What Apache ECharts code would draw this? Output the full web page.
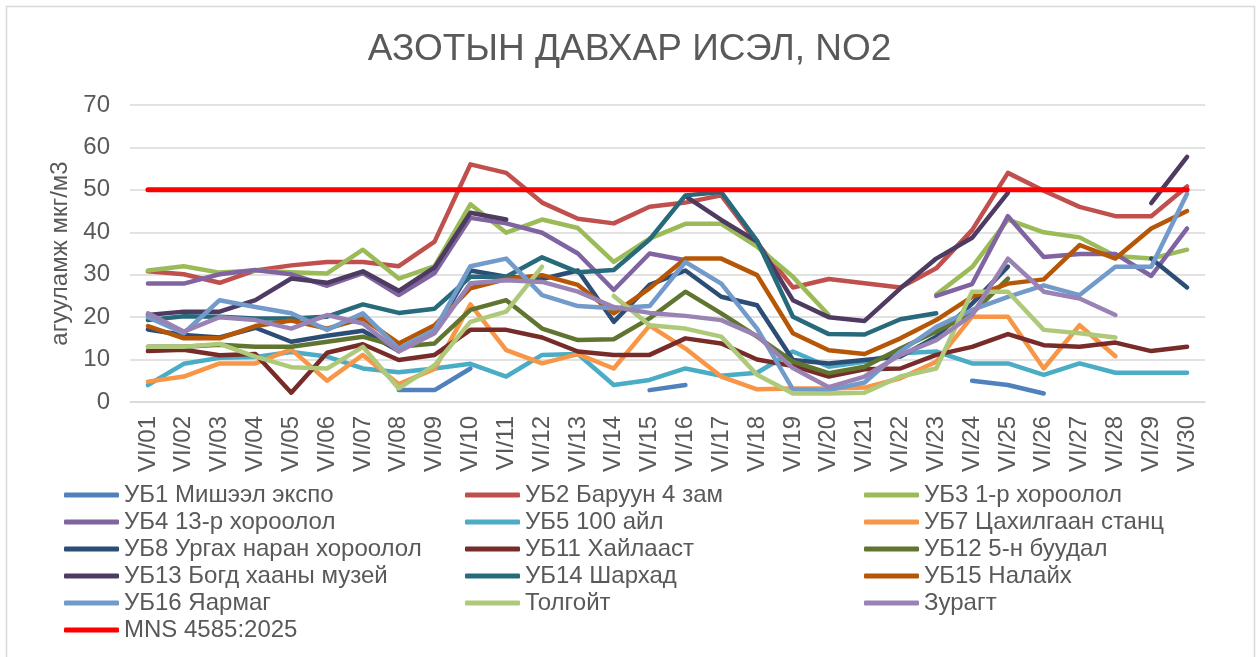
<!DOCTYPE html>
<html>
<head>
<meta charset="utf-8">
<script src="https://cdn.jsdelivr.net/npm/echarts@6/dist/echarts.min.js"></script>
<style>
html,body{margin:0;padding:0;background:#fff;}
#chart{width:1259px;height:657px;}
</style>
</head>
<body>
<div id="chart"></div>
<script>
var categories = ['VI/01','VI/02','VI/03','VI/04','VI/05','VI/06','VI/07','VI/08','VI/09','VI/10','VI/11','VI/12','VI/13','VI/14','VI/15','VI/16','VI/17','VI/18','VI/19','VI/20','VI/21','VI/22','VI/23','VI/24','VI/25','VI/26','VI/27','VI/28','VI/29','VI/30'];
var yTicks = [0,10,20,30,40,50,60,70];

var ub1 = [null,null,null,null,null,null,null,2.8,2.8,7.9,null,null,null,null,2.8,4,null,null,null,null,null,null,null,5,4,2,null,null,null,null];
var ub2 = [30.8,30.1,28.1,31,32.2,33,33,32,37.8,56,54,47,43.2,42.1,46,47,48.7,37.5,27,29,28,27,31.5,40.5,54,49.8,46,43.8,43.8,50.8];
var ub3 = [31,32,30.5,31,30.6,30.3,35.9,29.1,32,46.6,39.9,43,41,33,38.5,42,42,36.6,29.5,20.5,null,null,25.3,31.8,43,40,38.8,34.4,33.8,35.9];
var ub4 = [27.9,27.9,30.1,31.1,30.1,27.4,30.4,25.2,30.4,43.4,42.1,39.9,35,26.4,35,33.4,null,null,null,null,null,null,25,27.8,43.8,34.2,34.9,34.9,29.7,40.9];
var ub5 = [4,9,10.4,10.6,11.8,10.7,7.9,7,7.9,9,6,11.1,11.3,4,5.2,7.9,6.2,6.9,11.9,8.3,9.5,11.5,11.9,9.1,9.1,6.4,9.1,6.9,6.9,6.9];
var ub7 = [4.8,6,9.1,9.1,12.4,5,11.1,4.2,7.8,23,12.2,9.1,11.3,7.9,18,12.6,6,3,3.2,3.2,3.4,5.6,9.5,20.1,20.1,7.9,18.1,10.8,null,null];
var ub8 = [17.1,15.8,15.2,17.5,14.2,15.6,16.8,12,16.8,31,29.5,29,31,18.9,27.6,31,24.8,22.8,9.9,9.1,9.9,10.7,15.4,23.2,31.9,null,null,null,33.8,27];
var ub11 = [12,12.3,11,11.3,2.2,11.6,13.6,9.9,11.1,17,17,15.2,11.9,11.1,11.1,15,13.8,10,8.5,6,7.7,7.9,11.1,13,16,13.4,13,14,12,13];
var ub12 = [13,13,13.5,13,13,14.2,15.4,13,13.8,21.7,24,17.3,14.6,14.8,19.7,26,20.9,15.4,9.5,6.8,8.3,12.6,16.6,20.9,29.1,null,null,null,null,null];
var ub13 = [20.5,21.3,21.3,24,29.1,28.1,30.8,26.2,31.7,44.6,43,null,null,null,null,48.5,42.9,37.8,24,20,19.1,26.8,33.8,38.7,49.3,null,null,null,46.9,57.8];
var ub14 = [19.3,20.2,20.1,19.7,19.7,20.1,23,21,22,29.5,29.5,34.1,30.6,31.1,38.3,48.7,49.5,38,20.1,16,15.9,19.5,20.9,null,null,null,null,null,null,null];
var ub15 = [17.9,15,15,17.9,19.2,17.3,19.7,13.8,18.1,26.8,29,29.9,27.6,20.9,26.8,33.8,33.8,29.9,16.2,12.2,11.3,15,19.3,24.8,27.9,28.9,37,33.8,40.9,45];
var ub16 = [20,16.2,24,22.4,20.9,17,20.9,12.6,17,32,33.8,25.2,22.6,22.1,22.6,33,27.9,17.3,3,2.8,4.6,11.9,17.7,21.7,24.8,27.5,25.2,31.9,31.9,49.1];
var tolgoit = [13,13,13.7,10.7,8.2,7.9,13,3.2,8.7,18.9,21.3,31.9,null,25,18.1,17.3,15.4,6.4,2,2,2.2,6,7.9,26,26,17,16.2,15.2,null,null];
var zuragt = [20.9,16.6,20,19.3,17.3,20.5,18.5,11.9,16.2,28,28.7,28.3,26,22.4,21,20.3,19.3,15.6,8,3.5,6,11.1,14.6,20.5,33.8,26,24.4,20.5,null,null];
var mns = [50,50,50,50,50,50,50,50,50,50,50,50,50,50,50,50,50,50,50,50,50,50,50,50,50,50,50,50,50,50];

var seriesNames = ['УБ1 Мишээл экспо','УБ2 Баруун 4 зам','УБ3 1-р хороолол','УБ4 13-р хороолол','УБ5 100 айл','УБ7 Цахилгаан станц','УБ8 Ургах наран хороолол','УБ11 Хайлааст','УБ12 5-н буудал','УБ13 Богд хааны музей','УБ14 Шархад','УБ15 Налайх','УБ16 Яармаг','Толгойт','Зурагт','MNS 4585:2025'];
var seriesData = [ub1,ub2,ub3,ub4,ub5,ub7,ub8,ub11,ub12,ub13,ub14,ub15,ub16,tolgoit,zuragt,mns];
var seriesColors = ['#4F81BD','#C0504D','#9BBB59','#8064A2','#4BACC6','#F79646','#2C4D75','#772C2A','#5F7530','#4D3B62','#276A7C','#B65708','#729ACA','#AFC97A','#9983B5','#FF0000'];

var FONT = '"Liberation Sans", Arial, sans-serif';
var TXT = '#595959';

var series = seriesNames.map(function(n,i){
  return {
    name:n, type:'line', data:seriesData[i], color:seriesColors[i],
    showSymbol:false, symbol:'none', connectNulls:false, silent:true,
    lineStyle:{width: i===15 ? 5 : 4.5, color:seriesColors[i], cap:'round', join:'round'},
    z: i===15 ? 5 : 2
  };
});

function legendCol(left, names){
  return {
    orient:'vertical', left:left, top:483, height:180, padding:0, data:names,
    icon:'roundRect', itemWidth:55, itemHeight:5, itemGap:3, selectedMode:false,
    textStyle:{fontSize:24, color:TXT, fontFamily:FONT}
  };
}

var chart = echarts.init(document.getElementById('chart'), null, {renderer:'canvas'});
chart.setOption({
  animation:false,
  backgroundColor:'#fff',
  title:{text:'АЗОТЫН ДАВХАР ИСЭЛ, NO2', left:'center', top:26,
    textStyle:{fontSize:37, fontWeight:'normal', color:TXT, fontFamily:FONT}},
  graphic:[{type:'rect', shape:{x:6.5,y:6.5,width:1248,height:660}, style:{fill:null, stroke:'#D9D9D9', lineWidth:1.5}, silent:true}],
  legend:[
    legendCol(64, [seriesNames[0],seriesNames[3],seriesNames[6],seriesNames[9],seriesNames[12],seriesNames[15]]),
    legendCol(465, [seriesNames[1],seriesNames[4],seriesNames[7],seriesNames[10],seriesNames[13]]),
    legendCol(864, [seriesNames[2],seriesNames[5],seriesNames[8],seriesNames[11],seriesNames[14]])
  ],
  grid:{left:130, right:54, top:105, bottom:255, containLabel:false},
  xAxis:{type:'category', data:categories, boundaryGap:true,
    axisLine:{show:true, lineStyle:{color:'#D9D9D9', width:1.5}},
    axisTick:{show:false},
    axisLabel:{interval:0, rotate:90, margin:14, fontSize:24, color:TXT, fontFamily:FONT}},
  yAxis:{type:'value', min:yTicks[0], max:yTicks[yTicks.length-1], interval:10,
    name:'агууламж мкг/м3', nameLocation:'middle', nameGap:57,
    nameTextStyle:{fontSize:24, color:TXT, fontFamily:FONT},
    axisLine:{show:false}, axisTick:{show:false},
    splitLine:{lineStyle:{color:'#D9D9D9', width:1.5}},
    axisLabel:{margin:20, fontSize:24, color:TXT, fontFamily:FONT}},
  series:series
});
</script>
</body>
</html>
